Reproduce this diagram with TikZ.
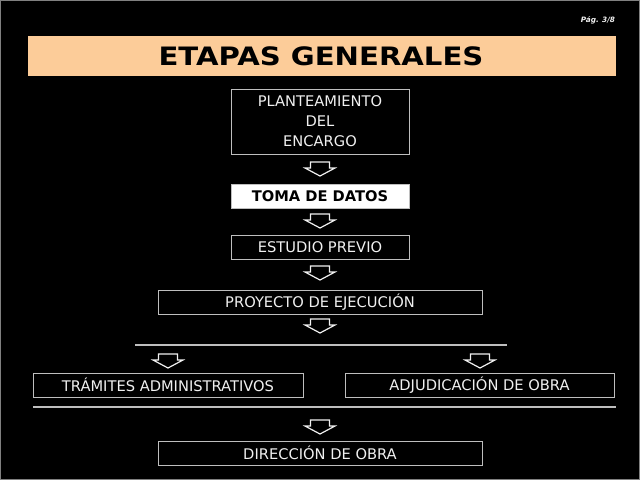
\documentclass[tikz,border=0pt]{standalone}
\usepackage{fontspec}
\setmainfont{DejaVu Sans}
\usepackage{tikz}

\definecolor{salmon}{RGB}{252,204,153}
\definecolor{gristrazo}{RGB}{190,190,190}
\definecolor{blanco}{RGB}{240,240,240}

\tikzset{
  caja/.style={draw=gristrazo, line width=0.75pt, inner sep=0pt, text=blanco, font=\fontsize{11}{13.5}\selectfont},
  flecha/.style={draw=blanco, line width=0.9pt, line join=miter},
  separador/.style={draw=gristrazo, line width=1.5pt}
}

\begin{document}
\begin{tikzpicture}[x=0.75pt,y=0.75pt,yscale=-1,xscale=1]
%set diagram left start at 0, and has height of 480
\fill[black] (0,0) rectangle (640,480);
\draw[gray, line width=0.75pt] (0.5,0.5) rectangle (639.5,479.5);
\useasboundingbox (0,0) rectangle (640,480);

%Shape: Rectangle [id:titulo]
\fill[salmon] (28,36) rectangle (616,76);
% Text Node
\node (tit) at (321,56) [inner sep=0pt] {\scalebox{1.15}[1]{\fontsize{19}{23}\selectfont\bfseries ETAPAS GENERALES}};
% Text Node
\node (pag) at (598,20) [inner sep=0pt, text=blanco] {\fontsize{5.5}{7}\selectfont\bfseries\itshape Pág. 3/8};

% Boxes
\node (plan) at (320,121.5) [caja, minimum width=178*0.75pt, minimum height=65*0.75pt, align=center] {PLANTEAMIENTO\\[1.5pt]DEL\\[1.5pt]ENCARGO};
\node (toma) at (320,196) [caja, fill=white, text=black, minimum width=178*0.75pt, minimum height=24*0.75pt] {\bfseries TOMA DE DATOS};
\node (estudio) at (320,247) [caja, minimum width=178*0.75pt, minimum height=24*0.75pt] {ESTUDIO PREVIO};
\node (proyecto) at (320,302) [caja, minimum width=324*0.75pt, minimum height=24*0.75pt] {PROYECTO DE EJECUCIÓN};
\node (tramites) at (168,385) [caja, minimum width=270*0.75pt, minimum height=24*0.75pt] {TRÁMITES ADMINISTRATIVOS};
\node (adjud) at (479.5,385) [caja, minimum width=269*0.75pt, minimum height=24*0.75pt] {ADJUDICACIÓN DE OBRA};
\node (direccion) at (320,453) [caja, minimum width=324*0.75pt, minimum height=24*0.75pt] {DIRECCIÓN DE OBRA};

%Straight Lines [id:sep1]
\coordinate (s1a) at (135,345);
\coordinate (s1b) at (507,345);
\draw[separador] (s1a) -- (s1b);
%Straight Lines [id:sep2]
\coordinate (s2a) at (33,407);
\coordinate (s2b) at (616,407);
\draw[separador] (s2a) -- (s2b);

% Arrows
\coordinate (f1) at (320,162);
\coordinate (f2) at (320,214);
\coordinate (f3) at (320,266);
\coordinate (f4) at (320,319);
\coordinate (f5) at (168,354);
\coordinate (f6) at (480,354);
\coordinate (f7) at (320,420);
%Shape: Arrow [id:f1]
\draw[flecha] (f1) ++(-9.5,0) -- ++(19,0) -- ++(0,6) -- ++(5.5,0) -- ++(-15,8) -- ++(-15,-8) -- ++(5.5,0) -- cycle;
%Shape: Arrow [id:f2]
\draw[flecha] (f2) ++(-9.5,0) -- ++(19,0) -- ++(0,6) -- ++(5.5,0) -- ++(-15,8) -- ++(-15,-8) -- ++(5.5,0) -- cycle;
%Shape: Arrow [id:f3]
\draw[flecha] (f3) ++(-9.5,0) -- ++(19,0) -- ++(0,6) -- ++(5.5,0) -- ++(-15,8) -- ++(-15,-8) -- ++(5.5,0) -- cycle;
%Shape: Arrow [id:f4]
\draw[flecha] (f4) ++(-9.5,0) -- ++(19,0) -- ++(0,6) -- ++(5.5,0) -- ++(-15,8) -- ++(-15,-8) -- ++(5.5,0) -- cycle;
%Shape: Arrow [id:f5]
\draw[flecha] (f5) ++(-9.5,0) -- ++(19,0) -- ++(0,6) -- ++(5.5,0) -- ++(-15,8) -- ++(-15,-8) -- ++(5.5,0) -- cycle;
%Shape: Arrow [id:f6]
\draw[flecha] (f6) ++(-9.5,0) -- ++(19,0) -- ++(0,6) -- ++(5.5,0) -- ++(-15,8) -- ++(-15,-8) -- ++(5.5,0) -- cycle;
%Shape: Arrow [id:f7]
\draw[flecha] (f7) ++(-9.5,0) -- ++(19,0) -- ++(0,6) -- ++(5.5,0) -- ++(-15,8) -- ++(-15,-8) -- ++(5.5,0) -- cycle;

\end{tikzpicture}
\end{document}
